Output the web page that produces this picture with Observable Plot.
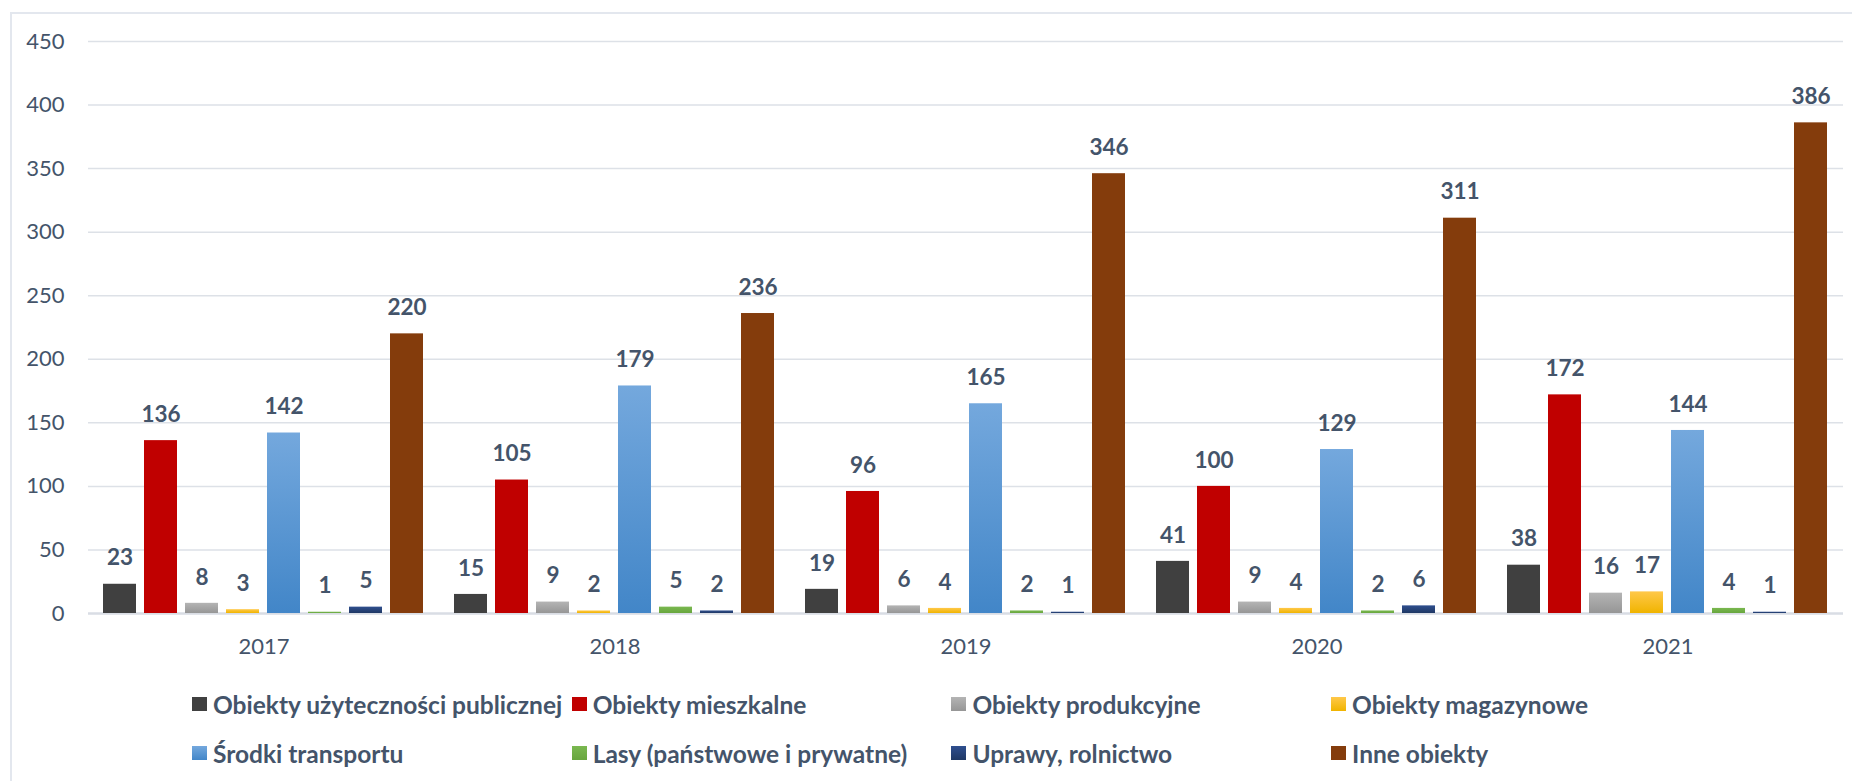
<!DOCTYPE html>
<html>
<head>
<meta charset="utf-8">
<script src="https://cdn.jsdelivr.net/npm/d3@7"></script>
<script src="https://cdn.jsdelivr.net/npm/@observablehq/plot@0.6"></script>
<style>
  html, body { margin: 0; padding: 0; background: #fff; overflow: hidden; width: 1852px; height: 781px; }
  #frame { position: absolute; left: 10px; top: 12px; width: 1900px; height: 900px;
           border-left: 2px solid #e3e7ee; border-top: 2px solid #e3e7ee; box-sizing: border-box; }
  #chart { position: absolute; left: 0; top: 0; }
  #legend { position: absolute; left: 192px; top: 691px; display: grid;
            grid-template-columns: repeat(4, 379.7px); row-gap: 23px;
            font-family: Lato, "Open Sans", sans-serif; font-weight: 700; font-size: 24.5px; color: #44546A; }
  .item { display: flex; align-items: center; height: 26px; white-space: nowrap; }
  .sw { width: 15px; height: 14px; margin-right: 6px; flex: none; }
</style>
</head>
<body>
<div id="frame"></div>
<div id="chart"></div>
<div id="legend"></div>
<script>
const years = ["2017", "2018", "2019", "2020", "2021"];
const series = [
  "Obiekty użyteczności publicznej",
  "Obiekty mieszkalne",
  "Obiekty produkcyjne",
  "Obiekty magazynowe",
  "Środki transportu",
  "Lasy (państwowe i prywatne)",
  "Uprawy, rolnictwo",
  "Inne obiekty"
];
const values2017 = [23, 136, 8, 3, 142, 1, 5, 220];
const values2018 = [15, 105, 9, 2, 179, 5, 2, 236];
const values2019 = [19, 96, 6, 4, 165, 2, 1, 346];
const values2020 = [41, 100, 9, 4, 129, 2, 6, 311];
const values2021 = [38, 172, 16, 17, 144, 4, 1, 386];
const yTicks = [0, 50, 100, 150, 200, 250, 300, 350, 400, 450];

// colours: [top, bottom] of each vertical gradient
const gradients = [
  ["#404040", "#404040"],
  ["#c00000", "#c00000"],
  ["#b4b4b4", "#969696"],
  ["#ffc84a", "#f0b400"],
  ["#74a8dd", "#4286c8"],
  ["#7ab850", "#68a63e"],
  ["#2f4f8f", "#1f3864"],
  ["#843c0c", "#843c0c"]
];

const allValues = [values2017, values2018, values2019, values2020, values2021];
const data = years.flatMap((yr, i) => series.map((s, j) => ({year: yr, series: s, value: allValues[i][j]})));

const fills = series.map((s, j) => `url(#grad${j})`);

const slate = "#44546A";

const svg = Plot.plot({
  width: 1852,
  height: 670,
  marginTop: 41,
  marginBottom: 57,
  marginLeft: 87,
  marginRight: 8,
  style: {fontFamily: "Lato, 'Open Sans', sans-serif", fontSize: "22px", color: slate, background: "transparent"},
  fx: {domain: years, padding: 0, axis: "bottom", tickSize: 0, tickPadding: 25, label: null},
  x: {domain: series, axis: null, paddingInner: 0.19, paddingOuter: 0.36},
  y: {domain: [0, 450], ticks: yTicks, tickSize: 0, tickPadding: 24, label: null},
  color: {domain: series, range: fills, type: "ordinal"},
  marks: [
    Plot.ruleY(yTicks.filter(d => d > 0), {stroke: "#dde1e7", strokeWidth: 1.5}),
    Plot.ruleY([0], {stroke: "#d9dde4", strokeWidth: 2.5}),
    Plot.barY(data, {fx: "year", x: "series", y: "value", fill: "series"}),
    Plot.text(data, {fx: "year", x: "series", y: "value", text: d => String(d.value),
      dy: -26, fill: slate, fontWeight: "bold", fontSize: 22.5})
  ]
});

const defs = d3.select(svg).insert("defs", ":first-child");
gradients.forEach(([top, bottom], j) => {
  const g = defs.append("linearGradient").attr("id", `grad${j}`)
    .attr("x1", 0).attr("y1", 0).attr("x2", 0).attr("y2", 1);
  g.append("stop").attr("offset", "0%").attr("stop-color", top);
  g.append("stop").attr("offset", "100%").attr("stop-color", bottom);
});

document.getElementById("chart").appendChild(svg);

// legend, order as in the reference (row-major, 4 columns)
const legend = document.getElementById("legend");
series.forEach((s, j) => {
  const item = document.createElement("div");
  item.className = "item";
  const sw = document.createElement("span");
  sw.className = "sw";
  sw.style.background = `linear-gradient(to bottom, ${gradients[j][0]}, ${gradients[j][1]})`;
  const label = document.createElement("span");
  label.textContent = s;
  item.appendChild(sw);
  item.appendChild(label);
  legend.appendChild(item);
});
</script>
</body>
</html>
